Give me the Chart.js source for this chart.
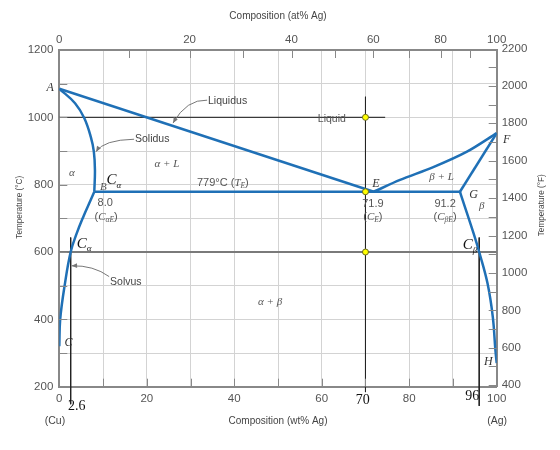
<!DOCTYPE html>
<html>
<head>
<meta charset="utf-8">
<script src="https://cdn.jsdelivr.net/npm/chart.js@4.4.1/dist/chart.umd.min.js"></script>
<style>
body{margin:0;background:#fff}
#wrap{width:560px;height:450px;position:relative}
</style>
</head>
<body>
<div id="wrap"><canvas id="chart"></canvas></div>
<script>
// axis ticks
const wtTicks = [0,10,20,30,40,50,60,70,80,90,100]
const atTicks = [0,10,20,30,40,50,60,70,80,90,100]
const cTicks = [200,300,400,500,600,700,800,900,1000,1100,1200]
const fTicks = [400,500,600,700,800,900,1000,1100,1200,1300,1400,1500,1600,1700,1800,1900,2000,2100,2200]

// phase boundaries (wt% Ag, temperature in C)
const liquidusLeftX = [0, 71.9]
const liquidusLeftT = [1085, 779]
const liquidusRightX = [71.9, 77.9, 85.5, 93.2, 100]
const liquidusRightT = [779, 814, 852, 898, 953]
const solidusLeftX = [0, 3.6, 5.7, 7.2, 7.9, 8.15, 8.0]
const solidusLeftT = [1085, 1042, 998, 942, 898, 843, 779]
const solidusRightX = [100, 91.6]
const solidusRightT = [953, 779]
const solvusLeftX = [8.0, 7.2, 5.5, 4.0, 2.6, 1.3, 0.2, 0]
const solvusLeftT = [779, 755, 705, 656, 600, 507, 400, 320]
const solvusRightX = [91.6, 92.2, 94.7, 96.0, 97.9, 99.1, 99.7, 100]
const solvusRightT = [779, 755, 656, 600, 507, 408, 309, 270]
const eutecticX = [8.0, 91.6]
const eutecticT = [779, 779]

// construction lines and points
const iso1000X = [0, 74.5]
const iso1000T = [1000, 1000]
const iso600X = [0, 100]
const iso600T = [600, 600]
const comp70X = [70, 70]
const comp70T = [1061, 184]
const comp26X = [2.6, 2.6]
const comp26T = [643, 148]
const comp96X = [96, 96]
const comp96T = [643, 143]
const markX = [70, 70, 70]
const markT = [1000, 779, 600]

const atToWt = a => 100 * a * 107.87 / (a * 107.87 + (100 - a) * 63.55)
const cToF = c => c * 9 / 5 + 32
const pts = (xs, ts) => xs.map((x, i) => ({x: x, y: ts[i]}))

const SANS = '"Liberation Sans", Arial, sans-serif'
const SERIF = '"Liberation Serif", "Times New Roman", serif'
const BLUE = "#1f70b6"

const it = (s) => "italic " + s + "px " + SERIF
const sn = (s) => s + "px " + SANS

// text annotations, positioned in data units
const notes = [
    {x:-2.1, y:1087, c:"#333", runs:[["A", it(12)]]},
    {x:2.9, y:834, c:"#555", runs:[["α", it(11)]]},
    {x:24.6, y:861, c:"#555", runs:[["α + L", it(11)]]},
    {x:37.4, y:804, c:"#555", runs:[["779°C (", sn(11)], ["T", it(11)], ["E", it(7.5), 3], [")", sn(11)]]},
    {x:10.1, y:792, c:"#555", runs:[["B", it(11)]]},
    {x:12.5, y:813, c:"#111", runs:[["C", it(15)], ["α", it(9), 5]]},
    {x:10.5, y:745, c:"#555", runs:[["8.0", sn(11)]]},
    {x:10.7, y:705, c:"#555", runs:[["(", sn(11)], ["C", it(11)], ["αE", it(7.5), 3], [")", sn(11)]]},
    {x:72.4, y:802, c:"#333", runs:[["E", it(12)]]},
    {x:71.7, y:742, c:"#555", runs:[["71.9", sn(11)]]},
    {x:71.7, y:705, c:"#555", runs:[["(", sn(11)], ["C", it(11)], ["E", it(7.5), 3], [")", sn(11)]]},
    {x:87.4, y:822, c:"#555", runs:[["β + L", it(11)]]},
    {x:94.7, y:771, c:"#333", runs:[["G", it(12)]]},
    {x:96.6, y:735, c:"#555", runs:[["β", it(11)]]},
    {x:88.2, y:742, c:"#555", runs:[["91.2", sn(11)]]},
    {x:88.2, y:705, c:"#555", runs:[["(", sn(11)], ["C", it(11)], ["βE", it(7.5), 3], [")", sn(11)]]},
    {x:102.3, y:933, c:"#333", runs:[["F", it(12)]]},
    {x:62.3, y:995, c:"#555", runs:[["Liquid", sn(10.5)]]},
    {x:48.2, y:451, c:"#555", runs:[["α + β", it(11)]]},
    {x:93.9, y:620, c:"#111", runs:[["C", it(15)], ["β", it(9), 5]]},
    {x:98.1, y:274, c:"#333", runs:[["H", it(12)]]},
    {x:2.1, y:329, c:"#333", runs:[["C", it(12)]]},
    {x:5.65, y:624, c:"#111", runs:[["C", it(15)], ["α", it(9), 5]]},
    {x:34.0, y:1048, c:"#444", left:true, runs:[["Liquidus", sn(10.5)]]},
    {x:17.3, y:935, c:"#444", left:true, runs:[["Solidus", sn(10.5)]]},
    {x:11.6, y:512, c:"#444", left:true, runs:[["Solvus", sn(10.5)]]},
    {x:4.0, y:143, c:"#111", runs:[["2.6", "14px " + SERIF]]},
    {x:69.4, y:160, c:"#111", runs:[["70", "14px " + SERIF]]},
    {x:94.4, y:172, c:"#111", runs:[["96", "14px " + SERIF]]},
    {x:-1.0, y:97, c:"#444", runs:[["(Cu)", sn(10.5)]]},
    {x:100.1, y:97, c:"#444", runs:[["(Ag)", sn(10.5)]]}
]

// leader arrows: from, control, to
const arrows = [
    [[33.8, 1051], [29.1, 1054], [26.0, 983]],
    [[17.1, 935], [10.1, 933], [8.4, 898]],
    [[11.4, 527], [7.8, 561], [2.8, 559]]
]

const decorations = {
    id: "decorations",
    afterDraw(chart) {
        const {ctx, chartArea: a, scales} = chart
        const sx = scales.x, sy = scales.y
        ctx.save()

        // inward tick marks
        ctx.strokeStyle = "#888"
        ctx.lineWidth = 1
        ctx.beginPath()
        wtTicks.forEach(v => {
            const p = Math.round(sx.getPixelForValue(v)) + 0.5
            ctx.moveTo(p, a.bottom); ctx.lineTo(p, a.bottom - 8)
        })
        atTicks.forEach(v => {
            const p = Math.round(scales.x2.getPixelForValue(atToWt(v))) + 0.5
            ctx.moveTo(p, a.top); ctx.lineTo(p, a.top + 8)
        })
        cTicks.forEach(v => {
            const p = Math.round(sy.getPixelForValue(v)) + 0.5
            ctx.moveTo(a.left, p); ctx.lineTo(a.left + 8, p)
        })
        fTicks.forEach(v => {
            const p = Math.round(scales.y2.getPixelForValue(v)) + 0.5
            if (p < a.top || p > a.bottom) return
            ctx.moveTo(a.right, p); ctx.lineTo(a.right - 8, p)
        })
        ctx.stroke()

        // side axis titles
        ctx.fillStyle = "#444"
        ctx.font = sn(8.2)
        ctx.textAlign = "center"
        ctx.textBaseline = "middle"
        const midY = sy.getPixelForValue(733)
        ctx.save()
        ctx.translate(20, midY)
        ctx.rotate(-Math.PI / 2)
        ctx.fillText("Temperature (°C)", 0, 0)
        ctx.restore()
        ctx.save()
        ctx.translate(542, midY - 2)
        ctx.rotate(-Math.PI / 2)
        ctx.fillText("Temperature (°F)", 0, 0)
        ctx.restore()

        // arrows
        ctx.strokeStyle = "#777"
        ctx.fillStyle = "#777"
        arrows.forEach(([f, c, t]) => {
            const x0 = sx.getPixelForValue(f[0]), y0 = sy.getPixelForValue(f[1])
            const x1 = sx.getPixelForValue(c[0]), y1 = sy.getPixelForValue(c[1])
            const x2 = sx.getPixelForValue(t[0]), y2 = sy.getPixelForValue(t[1])
            ctx.beginPath()
            ctx.moveTo(x0, y0)
            ctx.quadraticCurveTo(x1, y1, x2, y2)
            ctx.stroke()
            const ang = Math.atan2(y2 - y1, x2 - x1)
            ctx.beginPath()
            ctx.moveTo(x2, y2)
            ctx.lineTo(x2 - 6 * Math.cos(ang - 0.4), y2 - 6 * Math.sin(ang - 0.4))
            ctx.lineTo(x2 - 6 * Math.cos(ang + 0.4), y2 - 6 * Math.sin(ang + 0.4))
            ctx.closePath()
            ctx.fill()
        })

        // labels
        ctx.textBaseline = "middle"
        ctx.textAlign = "left"
        notes.forEach(n => {
            let w = 0
            n.runs.forEach(r => { ctx.font = r[1]; w += ctx.measureText(r[0]).width })
            let px = sx.getPixelForValue(n.x) - (n.left ? 0 : w / 2)
            const py = sy.getPixelForValue(n.y)
            ctx.fillStyle = n.c
            n.runs.forEach(r => {
                ctx.font = r[1]
                ctx.fillText(r[0], px, py + (r[2] || 0))
                px += ctx.measureText(r[0]).width
            })
        })
        ctx.restore()
    }
}

const boundary = (xs, ts, tension) => ({
    data: pts(xs, ts), showLine: true, borderColor: BLUE, borderWidth: 2.5,
    pointRadius: 0, tension: tension, fill: false, order: 2
})
const guide = (xs, ts, color, width) => ({
    data: pts(xs, ts), showLine: true, borderColor: color, borderWidth: width,
    pointRadius: 0, tension: 0, fill: false, clip: false, order: 3
})

const tickFont = {family: SANS, size: 11.5}
const titleFont = {family: SANS, size: 10}

new Chart(document.getElementById("chart"), {
    type: "scatter",
    data: {
        datasets: [
            {data: pts(markX, markT), pointRadius: 3, pointBackgroundColor: "#ffff00",
             pointBorderColor: "#6a6a20", pointBorderWidth: 1, showLine: false, order: 0},
            boundary(liquidusLeftX, liquidusLeftT, 0),
            boundary(liquidusRightX, liquidusRightT, 0.3),
            boundary(solidusLeftX, solidusLeftT, 0.4),
            boundary(solidusRightX, solidusRightT, 0),
            boundary(solvusLeftX, solvusLeftT, 0.4),
            boundary(solvusRightX, solvusRightT, 0.4),
            boundary(eutecticX, eutecticT, 0),
            guide(iso1000X, iso1000T, "#3a3a3a", 1.2),
            guide(iso600X, iso600T, "#7a7a7a", 2),
            guide(comp70X, comp70T, "#222", 1),
            guide(comp26X, comp26T, "#222", 1),
            guide(comp96X, comp96T, "#222", 1)
        ]
    },
    options: {
        responsive: true,
        maintainAspectRatio: false,
        animation: false,
        events: [],
        layout: {padding: 0},
        plugins: {legend: {display: false}, tooltip: {enabled: false}},
        scales: {
            x: {
                type: "linear", position: "bottom", min: 0, max: 100,
                afterFit: s => { s.height = 63.3 },
                ticks: {stepSize: 10, autoSkip: false, maxRotation: 0, padding: 5, color: "#555", font: tickFont,
                        callback: v => v % 20 === 0 ? v : ""},
                grid: {color: "#d3d3d3", drawTicks: false},
                border: {color: "#888", width: 2},
                title: {display: true, text: "Composition (wt% Ag)", color: "#444", font: titleFont, padding: {top: 0, bottom: 23}}
            },
            x2: {
                type: "linear", position: "top", min: 0, max: 100, bounds: "data",
                afterFit: s => { s.height = 50 },
                afterBuildTicks: s => { s.ticks = atTicks.map(a => ({value: atToWt(a)})) },
                ticks: {autoSkip: false, maxRotation: 0, padding: 3, color: "#555", font: tickFont,
                        callback: (v, i) => atTicks[i] % 20 === 0 ? atTicks[i] : ""},
                grid: {drawOnChartArea: false, drawTicks: false},
                border: {color: "#888", width: 2},
                title: {display: true, text: "Composition (at% Ag)", color: "#444", font: titleFont, padding: {top: 10, bottom: 0}}
            },
            y: {
                type: "linear", position: "left", min: 200, max: 1200,
                afterFit: s => { s.width = 59.3 },
                ticks: {stepSize: 100, autoSkip: false, padding: 6, color: "#555", font: tickFont,
                        callback: v => v % 200 === 0 ? v : ""},
                grid: {color: "#d3d3d3", drawTicks: false},
                border: {color: "#888", width: 2}
            },
            y2: {
                type: "linear", position: "right", min: cToF(200), max: cToF(1200), bounds: "data",
                afterFit: s => { s.width = 63.3 },
                afterBuildTicks: s => { s.ticks = fTicks.map(f => ({value: f})) },
                ticks: {autoSkip: false, padding: 5, color: "#555", font: tickFont,
                        callback: v => v % 200 === 0 ? v : ""},
                grid: {drawOnChartArea: false, drawTicks: false},
                border: {color: "#888", width: 2}
            }
        }
    },
    plugins: [decorations]
})
</script>
</body>
</html>
